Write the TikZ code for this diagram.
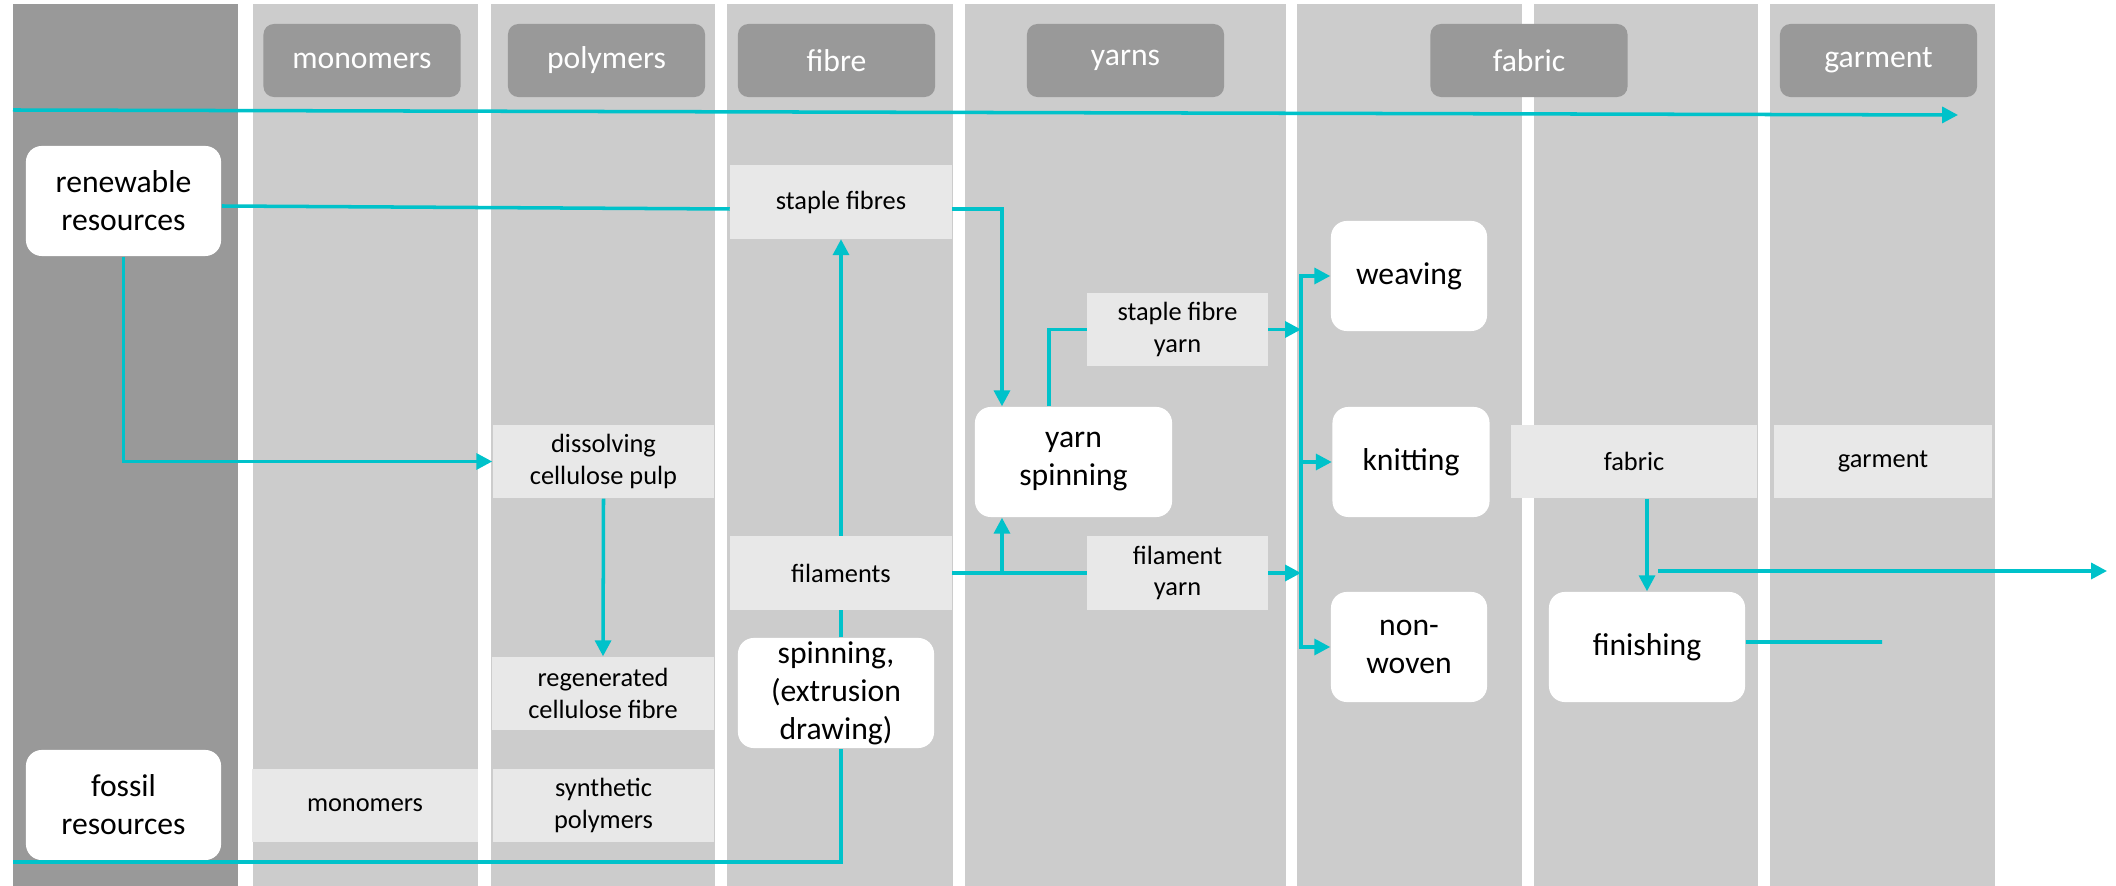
\documentclass[tikz,border=0pt]{standalone}
\usepackage{fontspec}
\setmainfont{Carlito}
\usepackage{tikz}
\usetikzlibrary{arrows.meta,positioning,calc}
\definecolor{flowteal}{RGB}{0,194,202}
\definecolor{lanegray}{RGB}{204,204,204}
\definecolor{srcgray}{RGB}{153,153,153}
\definecolor{taggray}{RGB}{232,232,232}

\begin{document}
\begin{tikzpicture}[x=0.01cm, y=-0.01cm, >={Triangle[length=4.5pt,width=4.5pt]}, line join=miter,
  proc/.style={fill=white, rounded corners=4.5pt, align=center, inner sep=0pt, minimum height=1.1cm, font=\fontsize{9}{10.8}\selectfont},
  item/.style={fill=taggray, align=center, inner sep=0pt, minimum height=0.73cm, font=\fontsize{7.5}{9}\selectfont},
  head/.style={fill=srcgray, rounded corners=3pt, text=white, minimum width=1.97cm, minimum height=0.73cm, inner sep=0pt, font=\fontsize{9}{10.8}\selectfont},
  flowline/.style={flowteal, line width=1pt}]
\useasboundingbox (0,0) rectangle (2116,886);
% lanes
\fill[srcgray] (13,4) rectangle (238,886);
\foreach \l/\r in {253/478, 491/715, 727/953, 965/1286, 1297/1522, 1534/1758, 1770/1995}
  \fill[lanegray] (\l,4) rectangle (\r,886);
% lane headings
\node[head] (hmono) at (362,60.5) {monomers};
\node[head] (hpoly) at (606.5,60.5) {polymers};
\node[head] (hfibre) at (836.5,60.5) {fibre};
\node[head] (hyarn) at (1125.5,60.5) {yarns};
\node[head] (hfabric) at (1529,60.5) {fabric};
\node[head] (hgarment) at (1878.5,60.5) {garment};
% processes
\node[proc, minimum width=1.95cm] (renew) at (123.5,201) {renewable\\resources};
\node[proc, minimum width=1.95cm] (fossil) at (123.5,805) {fossil\\resources};
\node[proc, minimum width=1.96cm] (spin) at (836,693) {spinning,\\(extrusion\\drawing)};
\node[proc, minimum width=1.97cm] (yspin) at (1073.5,462) {yarn\\spinning};
\node[proc, minimum width=1.56cm] (weave) at (1409,276) {weaving};
\node[proc, minimum width=1.57cm] (knit) at (1411,462) {knitting};
\node[proc, minimum width=1.56cm] (nonwoven) at (1409,647) {non-\\woven};
\node[proc, minimum width=1.96cm] (finish) at (1647,647) {finishing};
% products
\node[item, minimum width=2.21cm] (staple) at (841,202) {staple fibres};
\node[item, minimum width=2.21cm] (pulp) at (603.5,461.5) {dissolving\\cellulose pulp};
\node[item, minimum width=2.21cm] (fil) at (841,573) {filaments};
\node[item, minimum width=1.8cm] (sfyarn) at (1177.5,329.5) {staple fibre\\yarn};
\node[item, minimum width=1.8cm] (fyarn) at (1177.5,573) {filament\\yarn};
\node[item, minimum width=2.21cm] (regen) at (603,693.5) {regenerated\\cellulose fibre};
\node[item, minimum width=2.26cm] (mono) at (365,805.5) {monomers};
\node[item, minimum width=2.21cm] (synth) at (603.5,805.5) {synthetic\\polymers};
\node[item, minimum width=2.45cm] (fabric) at (1634,461.5) {fabric};
\node[item, minimum width=2.18cm] (garment) at (1883,461.5) {garment};
% free ends
\coordinate (topstart) at (13,110);
\coordinate (topend) at (1958,115);
\coordinate (fosstart) at (13,862);
\coordinate (outstart) at (1658,571);
\coordinate (outend) at (2107,571);
\coordinate (finend) at (1882,642);
\coordinate (bus) at (1301,0);
% flows
\draw[flowline,->] (topstart) -- (topend);
\draw[flowline] ([yshift=-0.05cm]renew.east) -- ([yshift=-0.07cm]staple.west);
\draw[flowline,->] ([yshift=-0.07cm]staple.east) -| ([xshift=-0.715cm]yspin.north);
\draw[flowline,->] (renew.south) |- (pulp.west);
\draw[flowline,->] (pulp.south) -- (regen.north);
\draw[flowline,->] (fil.north) -- (staple.south);
\draw[flowline] (fosstart) -| (fil.south |- spin.south);
\draw[flowline] (spin.north -| fil.south) -- (fil.south);
\draw[flowline] (fil.east) -- (fyarn.west);
\draw[flowline,->] ([xshift=-0.715cm]yspin.south |- fil.east) -- ([xshift=-0.715cm]yspin.south);
\draw[flowline] ([xshift=-0.245cm]yspin.north) |- (sfyarn.west);
\draw[flowline,->] (sfyarn.east) -- (sfyarn.east -| bus);
\draw[flowline,->] (fyarn.east) -- (fyarn.east -| bus);
\draw[flowline,->] (knit.west -| bus) |- (weave.west);
\draw[flowline,->] (knit.west -| bus) |- (nonwoven.west);
\draw[flowline,->] (knit.west -| bus) -- (knit.west);
\draw[flowline,->] (fabric.south -| finish.north) -- (finish.north);
\draw[flowline,->] (outstart) -- (outend);
\draw[flowline] ([yshift=0.05cm]finish.east) -- (finend);
\end{tikzpicture}
\end{document}
